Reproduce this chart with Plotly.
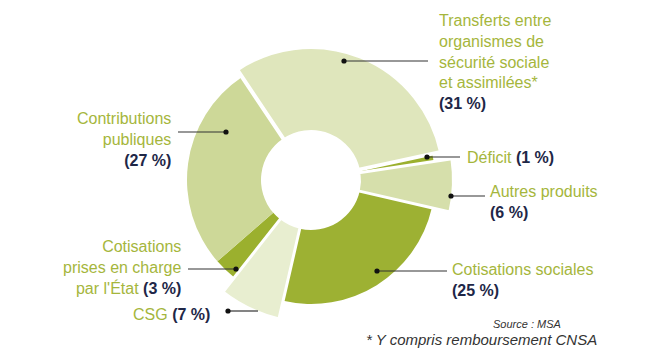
import plotly.graph_objects as go

# ---- data ----
categories = [
    "Transferts entre organismes de sécurité sociale et assimilées*",
    "Déficit",
    "Autres produits",
    "Cotisations sociales",
    "CSG",
    "Cotisations prises en charge par l'État",
    "Contributions publiques",
]
values = [31, 1, 6, 25, 7, 3, 27]
label_lines = [
    ["Transferts entre", "organismes de", "sécurité sociale", "et assimilées*"],
    ["Déficit"],
    ["Autres produits"],
    ["Cotisations sociales"],
    ["CSG"],
    ["Cotisations", "prises en charge", "par l'État"],
    ["Contributions", "publiques"],
]
pct_inline = [False, True, False, False, True, True, False]
source_text = "Source : MSA"
note_text = "* Y compris remboursement CNSA"

# ---- style ----
W, H = 660, 361
CX, CY = 311, 180
HOLE_R = 50
ROT = -33.8
COLORS = ["#dfe6bc", "#9bb02e", "#d6dfab", "#9db133", "#e8eed0", "#9bb02e", "#cdd898"]
GREEN_TXT = "#a5b63c"
DARK_TXT = "#1e2747"
FONT = "Liberation Sans, Arial, sans-serif"

# radius groups: (outer radius px, member slice indices, white border width)
GROUPS = [
    (124, [1, 3, 5, 6], 0),
    (133, [0], 4),
    (142.5, [2, 4], 3),
]


def px(x):
    return x / W


def py(y):
    return 1 - y / H


fig = go.Figure()
for r, members, lw in GROUPS:
    cols = [COLORS[i] if i in members else "rgba(0,0,0,0)" for i in range(len(values))]
    widths = [lw if i in members else 0 for i in range(len(values))]
    fig.add_trace(go.Pie(
        labels=categories, values=values, sort=False, direction="clockwise",
        rotation=ROT, hole=(HOLE_R - lw / 2) / r,
        marker=dict(colors=cols, line=dict(color="white", width=widths)),
        textinfo="none", hoverinfo="skip", showlegend=False,
        domain=dict(x=[px(CX - r), px(CX + r)], y=[py(CY + r), py(CY - r)]),
    ))

# label layout: (x, y, anchor), leader line (dot x, dot y, end x)
LABEL_POS = [
    (437, 62, "left"), (465, 157, "left"), (488, 202, "left"), (450, 280, "left"),
    (212, 314, "right"), (183, 267, "right"), (173, 139, "right"),
]
LEADERS = [
    (344, 61, 428), (427, 157, 460), (451, 196, 485), (377, 271, 447),
    (228, 311, 258), (236, 269, 188), (226, 132, 178),
]

shapes = []
annotations = []
for i, v in enumerate(values):
    pct = f"<span style='color:{DARK_TXT}'><b>({v} %)</b></span>"
    lines = list(label_lines[i])
    if pct_inline[i]:
        lines[-1] = lines[-1] + " " + pct
    else:
        lines.append(pct)
    x, y, anc = LABEL_POS[i]
    annotations.append(dict(
        x=px(x), y=py(y), xref="paper", yref="paper", xanchor=anc, yanchor="middle",
        align=anc, showarrow=False, text="<br>".join(lines),
        font=dict(family=FONT, size=16, color=GREEN_TXT),
    ))
    dx, dy, ex = LEADERS[i]
    shapes.append(dict(type="line", xref="paper", yref="paper", x0=px(dx), y0=py(dy),
                       x1=px(ex), y1=py(dy), line=dict(color="#333333", width=1.2), layer="above"))
    rr = 2.6
    shapes.append(dict(type="circle", xref="paper", yref="paper", x0=px(dx - rr), x1=px(dx + rr),
                       y0=py(dy + rr), y1=py(dy - rr), fillcolor="#111111",
                       line=dict(width=0), layer="above"))

annotations.append(dict(x=px(527), y=py(324), xref="paper", yref="paper", xanchor="center",
                        yanchor="middle", showarrow=False, text=f"<i>{source_text}</i>",
                        font=dict(family=FONT, size=11, color="#333333")))
annotations.append(dict(x=px(599), y=py(339), xref="paper", yref="paper", xanchor="right",
                        yanchor="middle", showarrow=False, text=f"<i>{note_text}</i>",
                        font=dict(family=FONT, size=15, color="#333333")))

fig.update_layout(
    width=W, height=H, margin=dict(l=0, r=0, t=0, b=0),
    paper_bgcolor="white", plot_bgcolor="white", showlegend=False,
    shapes=shapes, annotations=annotations,
)
fig.write_html(
    "out.html",
    config={"displayModeBar": False},
    post_script="document.body.style.margin='0';document.body.style.overflow='hidden';",
)
